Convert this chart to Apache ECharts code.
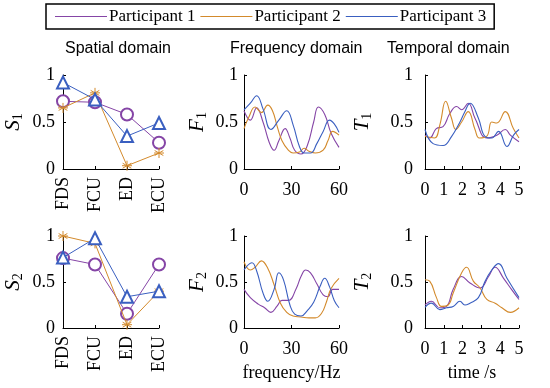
<!DOCTYPE html>
<html>
<head>
<meta charset="utf-8">
<script src="https://cdn.jsdelivr.net/npm/echarts@6/dist/echarts.min.js"></script>
<style>html,body{margin:0;padding:0;background:#fff}#c{width:550px;height:388px}</style>
</head>
<body>
<div id="c"></div>
<script>
// ---- data ----
const participants = ['Participant 1', 'Participant 2', 'Participant 3'];
const muscles = ['FDS', 'FCU', 'ED', 'ECU'];
const yTicks = [0, 0.5, 1];
const fTicks = [0, 30, 60];
const tTicks = [0, 1, 2, 3, 4, 5];

const S1_P1 = [0.72, 0.71, 0.58, 0.28];
const S1_P2 = [0.65, 0.81, 0.035, 0.17];
const S1_P3 = [0.92, 0.74, 0.35, 0.49];
const S2_P1 = [0.76, 0.69, 0.155, 0.69];
const S2_P2 = [1.0, 0.92, 0.036, 0.40];
const S2_P3 = [0.765, 0.975, 0.34, 0.40];

const F1_P1 = [[0,0.62],[4,0.52],[8,0.65],[12,0.5],[16,0.28],[19,0.2],[22,0.3],[26,0.43],[29,0.33],[32,0.2],[36,0.16],[40,0.25],[44,0.5],[47,0.66],[51,0.58],[55,0.38],[60,0.23]];
const F1_P2 = [[0,0.43],[3,0.55],[7,0.66],[11,0.6],[15,0.68],[18,0.62],[21,0.45],[24,0.3],[28,0.2],[31,0.17],[35,0.18],[38,0.22],[41,0.19],[45,0.17],[50,0.2],[53,0.3],[56,0.4],[60,0.36]];
const F1_P3 = [[0,0.63],[4,0.7],[8,0.78],[12,0.64],[17,0.42],[22,0.52],[27,0.62],[31,0.47],[35,0.24],[38,0.17],[42,0.17],[46,0.27],[50,0.4],[54,0.52],[57,0.48],[60,0.39]];

const F2_P1 = [[0,0.42],[4,0.33],[9,0.26],[13,0.22],[17,0.17],[21,0.24],[24,0.3],[28,0.3],[33,0.43],[36,0.56],[39,0.63],[42,0.6],[46,0.48],[50,0.36],[53,0.34],[56,0.42],[60,0.42]];
const F2_P2 = [[0,0.72],[4,0.63],[7,0.66],[11,0.73],[15,0.65],[19,0.47],[23,0.27],[27,0.17],[31,0.13],[36,0.12],[41,0.11],[45,0.11],[49,0.16],[52,0.28],[55,0.43],[60,0.54]];
const F2_P3 = [[0,0.63],[5,0.71],[8,0.62],[12,0.38],[15,0.29],[19,0.42],[22,0.6],[25,0.52],[29,0.25],[32,0.15],[36,0.13],[40,0.19],[44,0.28],[48,0.45],[51,0.54],[54,0.45],[57,0.3],[60,0.22]];

const T1_P1 = [[0,0.36],[0.25,0.33],[0.6,0.43],[0.96,0.45],[1.32,0.59],[1.68,0.665],[1.95,0.63],[2.3,0.7],[2.66,0.54],[3.29,0.33],[3.82,0.36],[4.27,0.42],[4.54,0.36],[5,0.29]];
const T1_P2 = [[0,0.345],[0.5,0.33],[0.79,0.47],[1.1,0.72],[1.41,0.54],[1.64,0.42],[1.95,0.5],[2.3,0.61],[2.66,0.42],[2.89,0.33],[3.29,0.35],[3.55,0.5],[3.82,0.49],[4.27,0.61],[4.7,0.43],[5,0.33]];
const T1_P3 = [[0,0.42],[0.43,0.27],[0.96,0.25],[1.41,0.345],[1.86,0.5],[2.1,0.6],[2.4,0.7],[2.84,0.54],[3.2,0.345],[3.55,0.33],[3.91,0.4],[4.36,0.24],[4.71,0.36],[5,0.42]];

const T2_P1 = [[0,0.25],[0.34,0.29],[0.79,0.22],[1.14,0.235],[1.5,0.42],[1.95,0.56],[2.39,0.49],[2.93,0.435],[3.38,0.56],[3.73,0.66],[4.18,0.54],[4.6,0.42],[5,0.31]];
const T2_P2 = [[0,0.525],[0.25,0.51],[0.61,0.33],[0.875,0.235],[1.23,0.25],[1.5,0.38],[1.95,0.6],[2.21,0.66],[2.57,0.51],[2.93,0.435],[3.29,0.31],[3.73,0.27],[4.09,0.22],[4.54,0.17],[5,0.22]];
const T2_P3 = [[0,0.225],[0.34,0.27],[0.79,0.2],[1.14,0.22],[1.5,0.235],[1.86,0.29],[2.12,0.25],[2.39,0.27],[2.84,0.33],[3.2,0.51],[3.55,0.63],[3.91,0.7],[4.36,0.54],[5,0.33]];

// ---- style ----
const colors = ['#8545A6', '#D38A2C', '#3A5FC0'];
const SERIF = 'Liberation Serif';
const SANS = 'Liberation Sans';
const asterisk = 'path://M0,-1L0,1M-0.87,-0.5L0.87,0.5M-0.87,0.5L0.87,-0.5M-1,0L1,0';
const symbols = ['emptyCircle', asterisk, 'emptyTriangle'];

const axisLine = {show: true, lineStyle: {color: '#000', width: 1}};
const axisTick = {show: true, inside: true, length: 3, lineStyle: {color: '#000', width: 1}};
const labelStyle = {fontFamily: SERIF, fontSize: 18, color: '#000'};

const gridDefs = [
  {left: 63, top: 75, width: 96, height: 94},
  {left: 244, top: 75, width: 95, height: 94},
  {left: 425, top: 75, width: 94, height: 94},
  {left: 63, top: 236, width: 96, height: 92},
  {left: 244, top: 236, width: 95, height: 92},
  {left: 425, top: 236, width: 94, height: 92}
];

const yNames = [['S','1',38,8],['F','1',35,6],['T','1',51,12],['S','2',38,8],['F','2',35,6],['T','2',51,12]];

const yAxes = yNames.map((n, i) => ({
  gridIndex: i, type: 'value', min: yTicks[0], max: yTicks[yTicks.length-1], interval: yTicks[1]-yTicks[0],
  axisLine, axisTick, splitLine: {show: false},
  axisLabel: Object.assign({margin: n[3]}, labelStyle),
  name: '{i|' + n[0] + '}{s|' + n[1] + '}',
  nameLocation: 'middle', nameRotate: 90, nameGap: n[2],
  nameTextStyle: {rich: {
    i: {fontFamily: SERIF, fontStyle: 'italic', fontSize: 21, color: '#000', lineHeight: 24},
    s: {fontFamily: SERIF, fontSize: 14, color: '#000', lineHeight: 14, verticalAlign: 'bottom'}
  }}
}));

function catX(gi) {
  return {gridIndex: gi, type: 'category', data: muscles, boundaryGap: false,
    axisLine, axisTick, splitLine: {show: false},
    axisLabel: Object.assign({rotate: 90, margin: 8}, labelStyle)};
}
function valX(gi, ticks, name) {
  const o = {gridIndex: gi, type: 'value', min: ticks[0], max: ticks[ticks.length-1], interval: ticks[1]-ticks[0],
    axisLine, axisTick, splitLine: {show: false},
    axisLabel: Object.assign({margin: 12}, labelStyle)};
  if (name) {
    o.name = name; o.nameLocation = 'middle'; o.nameGap = 36;
    o.nameTextStyle = {fontFamily: SERIF, fontSize: 18, color: '#000'};
  }
  return o;
}
const xAxes = [catX(0), valX(1, fTicks), valX(2, tTicks), catX(3), valX(4, fTicks, 'frequency/Hz'), valX(5, tTicks, 'time /s')];

const series = [];
function addSpatial(gi, arrs) {
  arrs.forEach((d, k) => series.push({
    name: participants[k], type: 'line', xAxisIndex: gi, yAxisIndex: gi, data: d,
    symbol: symbols[k], symbolSize: k === 1 ? 10 : 12,
    lineStyle: {color: colors[k], width: 1},
    itemStyle: {color: k === 1 ? 'none' : colors[k], borderColor: colors[k], borderWidth: 1},
    z: 3 + k
  }));
}
function addCurves(gi, arrs) {
  arrs.forEach((d, k) => series.push({
    name: participants[k], type: 'line', xAxisIndex: gi, yAxisIndex: gi, data: d,
    smooth: 0.45, showSymbol: false, symbol: 'none',
    lineStyle: {color: colors[k], width: 1.1}, itemStyle: {color: colors[k]}
  }));
}
addSpatial(0, [S1_P1, S1_P2, S1_P3]);
addCurves(1, [F1_P1, F1_P2, F1_P3]);
addCurves(2, [T1_P1, T1_P2, T1_P3]);
addSpatial(3, [S2_P1, S2_P2, S2_P3]);
addCurves(4, [F2_P1, F2_P2, F2_P3]);
addCurves(5, [T2_P1, T2_P2, T2_P3]);

const titleStyle = {fontFamily: SANS, fontSize: 16, fontWeight: 'normal', color: '#000'};
const chart = echarts.init(document.getElementById('c'), null, {renderer: 'canvas'});
chart.setOption({
  animation: false,
  color: colors,
  title: [
    {text: 'Spatial domain', left: 65, top: 41, padding: 0, textStyle: titleStyle},
    {text: 'Frequency domain', left: 230, top: 41, padding: 0, textStyle: titleStyle},
    {text: 'Temporal domain', left: 387, top: 41, padding: 0, textStyle: titleStyle}
  ],
  legend: {
    data: participants.map((p, k) => ({name: p, itemStyle: {color: colors[k], borderWidth: 0}})),
    left: 46, top: 4, orient: 'horizontal',
    icon: 'rect', itemWidth: 52, itemHeight: 1, itemGap: 5,
    padding: [4, 8, 4, 9], borderColor: '#000', borderWidth: 1.5,
    textStyle: {fontFamily: SERIF, fontSize: 17, color: '#000', padding: [0,0,0,-3]},
    selectedMode: false
  },
  grid: gridDefs,
  xAxis: xAxes,
  yAxis: yAxes,
  series
});
</script>
</body>
</html>
